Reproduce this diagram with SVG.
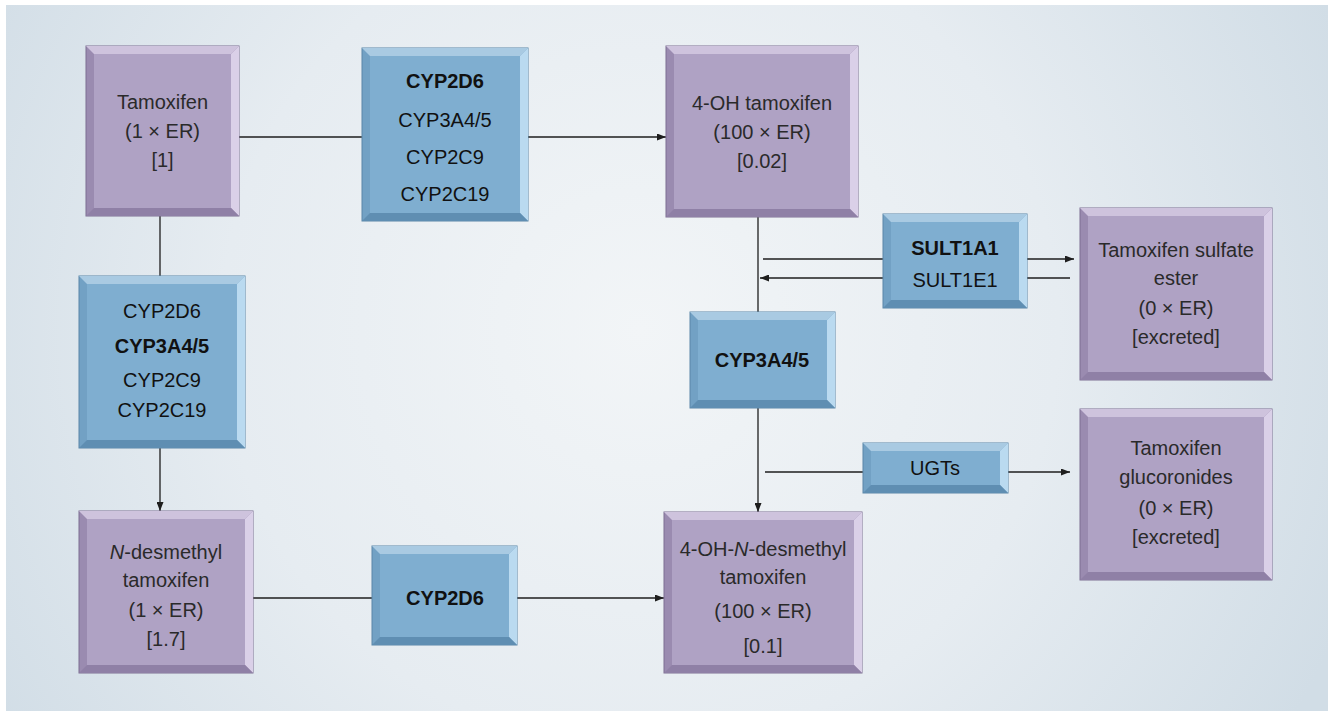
<svg xmlns="http://www.w3.org/2000/svg" width="1328" height="711" viewBox="0 0 1328 711">
<defs>
<radialGradient id="bg" cx="640" cy="330" r="760" gradientUnits="userSpaceOnUse">
<stop offset="0" stop-color="#F2F5F7"/>
<stop offset="0.55" stop-color="#E6ECF1"/>
<stop offset="1" stop-color="#D1DDE6"/>
</radialGradient>
<marker id="arr" markerWidth="9" markerHeight="7" refX="9" refY="3.5" orient="auto" markerUnits="userSpaceOnUse">
<path d="M0,0 L9,3.5 L0,7 z" fill="#1e1e1e"/>
</marker>
<style>
.pO{fill:#9A8BB0;stroke:#7C6E92;stroke-width:1}
.pT{fill:#CEC3DD}
.pR{fill:#DAD0E8}
.pB{fill:#8F80A6}
.pF{fill:#AFA2C4}
.bO{fill:#72A1C4;stroke:#5A86A8;stroke-width:1}
.bT{fill:#A9CAE2}
.bR{fill:#BADAF0}
.bB{fill:#5F8EB2}
.bF{fill:#7FAED0}
text{font-family:"Liberation Sans",Arial,Helvetica,sans-serif;font-size:20px;text-anchor:middle}
.tp{fill:#2a2a2a}
.tb{fill:#111}
.bd{font-weight:bold}
.ln{stroke:#1e1e1e;stroke-width:1.3;fill:none}
</style>
</defs>
<rect x="0" y="0" width="1328" height="711" fill="#FFFFFF"/>
<rect x="6" y="5" width="1322" height="706" fill="url(#bg)"/>

<g id="connectors">
<line class="ln" x1="239" y1="137" x2="362" y2="137"/>
<line class="ln" x1="528" y1="137" x2="666" y2="137" marker-end="url(#arr)"/>
<line class="ln" x1="160" y1="216" x2="160" y2="276"/>
<line class="ln" x1="160" y1="448" x2="160" y2="511" marker-end="url(#arr)"/>
<line class="ln" x1="253" y1="598" x2="372" y2="598"/>
<line class="ln" x1="517" y1="598" x2="664" y2="598" marker-end="url(#arr)"/>
<line class="ln" x1="758" y1="217" x2="758" y2="312"/>
<line class="ln" x1="758" y1="408" x2="758" y2="512" marker-end="url(#arr)"/>
<line class="ln" x1="763" y1="259" x2="883" y2="259"/>
<line class="ln" x1="1027" y1="259" x2="1074" y2="259" marker-end="url(#arr)"/>
<line class="ln" x1="1070" y1="278" x2="1027" y2="278"/>
<line class="ln" x1="883" y1="278" x2="760" y2="278" marker-end="url(#arr)"/>
<line class="ln" x1="765" y1="472" x2="863" y2="472"/>
<line class="ln" x1="1008" y1="472" x2="1070" y2="472" marker-end="url(#arr)"/>
</g>

<g id="tamoxifen">
<rect class="pO" x="86" y="46" width="153" height="170"/>
<polygon class="pT" points="86,46 239,46 231,54 94,54"/>
<polygon class="pR" points="239,46 239,216 231,208 231,54"/>
<polygon class="pB" points="86,216 239,216 231,208 94,208"/>
<rect class="pF" x="94" y="54" width="137" height="154"/>
<text class="tp" x="162.5" y="109">Tamoxifen</text>
<text class="tp" x="162.5" y="138">(1 × ER)</text>
<text class="tp" x="162.5" y="167">[1]</text>
</g>

<g id="cyp-top">
<rect class="bO" x="362" y="48" width="166" height="173"/>
<polygon class="bT" points="362,48 528,48 520,56 370,56"/>
<polygon class="bR" points="528,48 528,221 520,213 520,56"/>
<polygon class="bB" points="362,221 528,221 520,213 370,213"/>
<rect class="bF" x="370" y="56" width="150" height="157"/>
<text class="tb bd" x="445" y="88">CYP2D6</text>
<text class="tb" x="445" y="127">CYP3A4/5</text>
<text class="tb" x="445" y="164">CYP2C9</text>
<text class="tb" x="445" y="201">CYP2C19</text>
</g>

<g id="oh-tamoxifen">
<rect class="pO" x="666" y="46" width="192" height="171"/>
<polygon class="pT" points="666,46 858,46 850,54 674,54"/>
<polygon class="pR" points="858,46 858,217 850,209 850,54"/>
<polygon class="pB" points="666,217 858,217 850,209 674,209"/>
<rect class="pF" x="674" y="54" width="176" height="155"/>
<text class="tp" x="762" y="110">4-OH tamoxifen</text>
<text class="tp" x="762" y="139">(100 × ER)</text>
<text class="tp" x="762" y="168">[0.02]</text>
</g>

<g id="sult">
<rect class="bO" x="883" y="214" width="144" height="94"/>
<polygon class="bT" points="883,214 1027,214 1019,222 891,222"/>
<polygon class="bR" points="1027,214 1027,308 1019,300 1019,222"/>
<polygon class="bB" points="883,308 1027,308 1019,300 891,300"/>
<rect class="bF" x="891" y="222" width="128" height="78"/>
<text class="tb bd" x="955" y="255">SULT1A1</text>
<text class="tb" x="955" y="287">SULT1E1</text>
</g>

<g id="sulfate-ester">
<rect class="pO" x="1080" y="208" width="192" height="172"/>
<polygon class="pT" points="1080,208 1272,208 1264,216 1088,216"/>
<polygon class="pR" points="1272,208 1272,380 1264,372 1264,216"/>
<polygon class="pB" points="1080,380 1272,380 1264,372 1088,372"/>
<rect class="pF" x="1088" y="216" width="176" height="156"/>
<text class="tp" x="1176" y="257">Tamoxifen sulfate</text>
<text class="tp" x="1176" y="285">ester</text>
<text class="tp" x="1176" y="315">(0 × ER)</text>
<text class="tp" x="1176" y="344">[excreted]</text>
</g>

<g id="cyp3a-right">
<rect class="bO" x="690" y="312" width="145" height="96"/>
<polygon class="bT" points="690,312 835,312 827,320 698,320"/>
<polygon class="bR" points="835,312 835,408 827,400 827,320"/>
<polygon class="bB" points="690,408 835,408 827,400 698,400"/>
<rect class="bF" x="698" y="320" width="129" height="80"/>
<text class="tb bd" x="762" y="367">CYP3A4/5</text>
</g>

<g id="ugts">
<rect class="bO" x="863" y="443" width="145" height="50"/>
<polygon class="bT" points="863,443 1008,443 1000,451 871,451"/>
<polygon class="bR" points="1008,443 1008,493 1000,485 1000,451"/>
<polygon class="bB" points="863,493 1008,493 1000,485 871,485"/>
<rect class="bF" x="871" y="451" width="129" height="34"/>
<text class="tb" x="935" y="475">UGTs</text>
</g>

<g id="glucoronides">
<rect class="pO" x="1080" y="409" width="192" height="171"/>
<polygon class="pT" points="1080,409 1272,409 1264,417 1088,417"/>
<polygon class="pR" points="1272,409 1272,580 1264,572 1264,417"/>
<polygon class="pB" points="1080,580 1272,580 1264,572 1088,572"/>
<rect class="pF" x="1088" y="417" width="176" height="155"/>
<text class="tp" x="1176" y="455">Tamoxifen</text>
<text class="tp" x="1176" y="484">glucoronides</text>
<text class="tp" x="1176" y="515">(0 × ER)</text>
<text class="tp" x="1176" y="544">[excreted]</text>
</g>

<g id="cyp-left">
<rect class="bO" x="79" y="276" width="166" height="172"/>
<polygon class="bT" points="79,276 245,276 237,284 87,284"/>
<polygon class="bR" points="245,276 245,448 237,440 237,284"/>
<polygon class="bB" points="79,448 245,448 237,440 87,440"/>
<rect class="bF" x="87" y="284" width="150" height="156"/>
<text class="tb" x="162" y="318">CYP2D6</text>
<text class="tb bd" x="162" y="353">CYP3A4/5</text>
<text class="tb" x="162" y="387">CYP2C9</text>
<text class="tb" x="162" y="417">CYP2C19</text>
</g>

<g id="n-desmethyl">
<rect class="pO" x="79" y="511" width="174" height="162"/>
<polygon class="pT" points="79,511 253,511 245,519 87,519"/>
<polygon class="pR" points="253,511 253,673 245,665 245,519"/>
<polygon class="pB" points="79,673 253,673 245,665 87,665"/>
<rect class="pF" x="87" y="519" width="158" height="146"/>
<text class="tp" x="166" y="559"><tspan font-style="italic">N</tspan>-desmethyl</text>
<text class="tp" x="166" y="587">tamoxifen</text>
<text class="tp" x="166" y="617">(1 × ER)</text>
<text class="tp" x="166" y="646">[1.7]</text>
</g>

<g id="cyp2d6-bottom">
<rect class="bO" x="372" y="546" width="145" height="99"/>
<polygon class="bT" points="372,546 517,546 509,554 380,554"/>
<polygon class="bR" points="517,546 517,645 509,637 509,554"/>
<polygon class="bB" points="372,645 517,645 509,637 380,637"/>
<rect class="bF" x="380" y="554" width="129" height="83"/>
<text class="tb bd" x="445" y="605">CYP2D6</text>
</g>

<g id="oh-n-desmethyl">
<rect class="pO" x="664" y="512" width="198" height="161"/>
<polygon class="pT" points="664,512 862,512 854,520 672,520"/>
<polygon class="pR" points="862,512 862,673 854,665 854,520"/>
<polygon class="pB" points="664,673 862,673 854,665 672,665"/>
<rect class="pF" x="672" y="520" width="182" height="145"/>
<text class="tp" x="763" y="556">4-OH-<tspan font-style="italic">N</tspan>-desmethyl</text>
<text class="tp" x="763" y="584">tamoxifen</text>
<text class="tp" x="763" y="618">(100 × ER)</text>
<text class="tp" x="763" y="653">[0.1]</text>
</g>
</svg>
